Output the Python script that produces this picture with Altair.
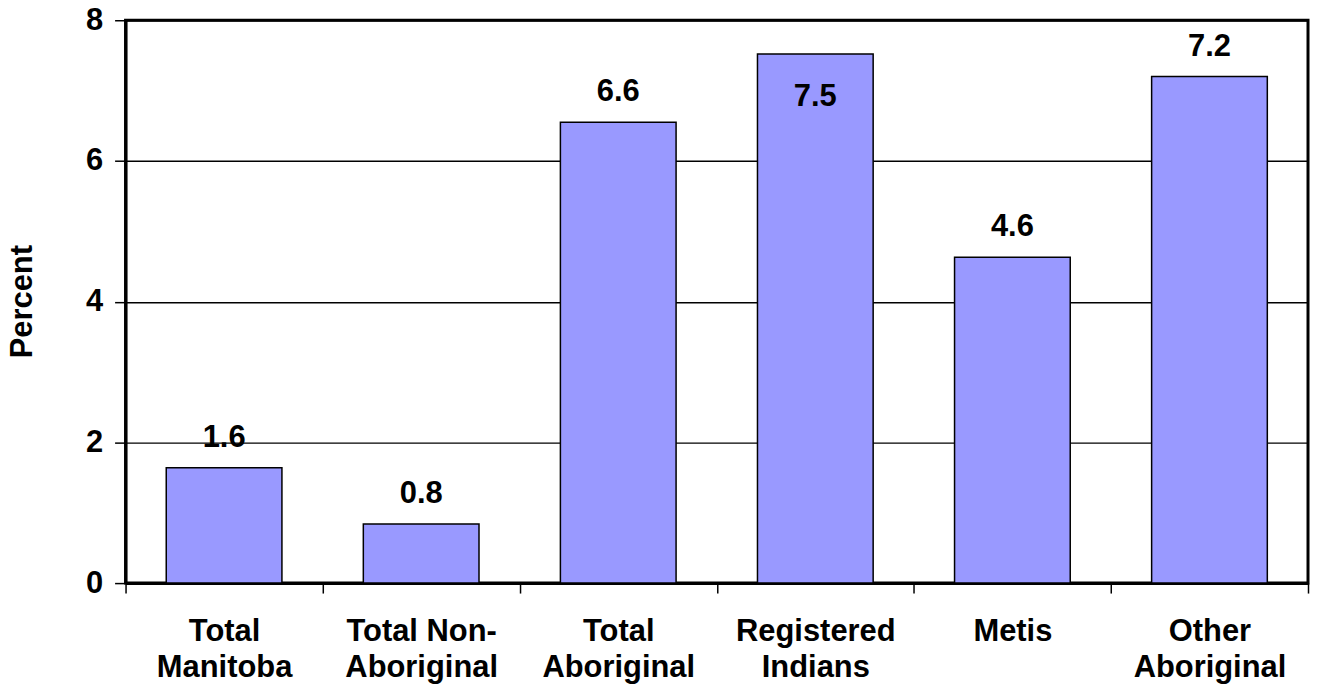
import altair as alt
import pandas as pd

categories = ["Total|Manitoba", "Total Non-|Aboriginal", "Total|Aboriginal",
              "Registered|Indians", "Metis", "Other|Aboriginal"]
values = [1.64, 0.84, 6.55, 7.52, 4.63, 7.2]
labels = ["1.6", "0.8", "6.6", "7.5", "4.6", "7.2"]
inside = [False, False, False, True, False, False]

df = pd.DataFrame({"cat": categories, "val": values, "lab": labels, "inside": inside})

FONT = "Liberation Sans"

x = alt.X("cat:N", sort=categories, title=None,
          scale=alt.Scale(paddingInner=0, paddingOuter=0),
          axis=alt.Axis(labelExpr="split(datum.label, '|')", labelAngle=0,
                        labelFont=FONT, labelFontSize=31, labelFontWeight="bold",
                        labelColor="black", labelLineHeight=36, labelPadding=24,
                        tickBand="extent", tickColor="black", tickWidth=1.5, tickSize=10,
                        domain=True, domainColor="black", domainWidth=3, grid=False))
y = alt.Y("val:Q", title="Percent",
          scale=alt.Scale(domain=[0, 8], nice=False),
          axis=alt.Axis(values=[0, 2, 4, 6, 8], format="d", labelFont=FONT, labelFontSize=31,
                        labelFontWeight="bold", labelColor="black", labelPadding=12,
                        tickColor="black", tickWidth=1.5, tickSize=11,
                        gridColor="black", gridWidth=1.5, gridOpacity=1,
                        domain=True, domainColor="black", domainWidth=3,
                        titleFont=FONT, titleFontSize=31,
                        titleFontWeight="bold", titleColor="black",
                        titleX=-103, titleY=282, titleAngle=270,
                        titleAlign="center", titleBaseline="middle"))

bars = alt.Chart(df).mark_bar(color="#9999FF", stroke="black", strokeWidth=1.5,
                              width=alt.RelativeBandSize(0.587)).encode(x=x, y=y)

text_out = alt.Chart(df).transform_filter("!datum.inside").mark_text(
    font=FONT, fontSize=31, fontWeight="bold", color="black",
    baseline="alphabetic", dy=-21).encode(x=alt.X("cat:N", sort=categories), y="val:Q", text="lab:N")

text_in = alt.Chart(df).transform_filter("datum.inside").mark_text(
    font=FONT, fontSize=31, fontWeight="bold", color="black",
    baseline="alphabetic", dy=52).encode(x=alt.X("cat:N", sort=categories), y="val:Q", text="lab:N")

chart = alt.layer(bars, text_out, text_in).properties(
    width=1187, height=565,
    autosize=alt.AutoSizeParams(type="none"),
    padding={"left": 118, "top": 11, "right": 2, "bottom": 100},
    view=alt.ViewBackground(stroke="black", strokeWidth=3),
).configure(background="white")

chart.save("out.html", embed_options={"renderer": "svg", "actions": False})
